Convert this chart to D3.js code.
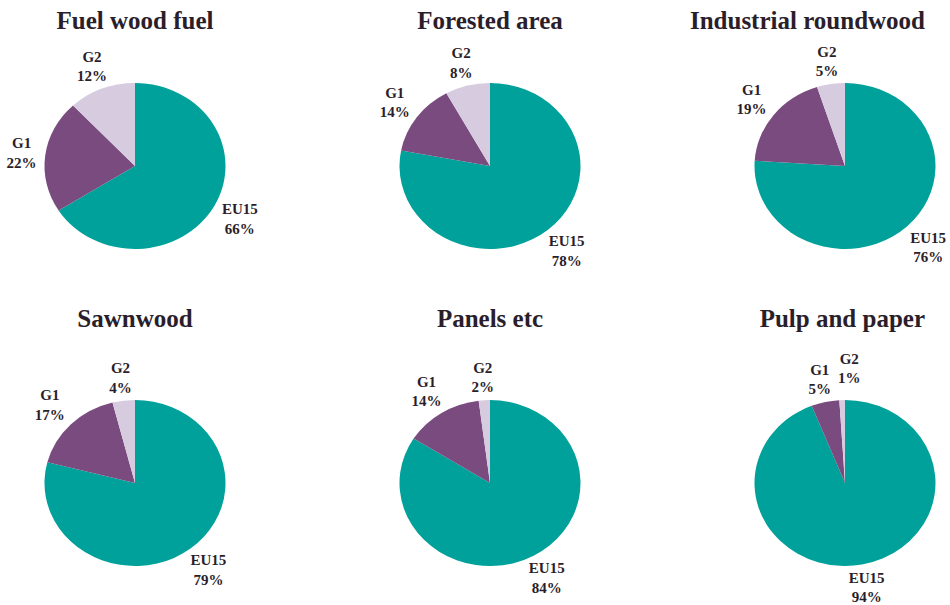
<!DOCTYPE html>
<html><head><meta charset="utf-8">
<script src="https://cdn.jsdelivr.net/npm/d3@7"></script>
<style>body{margin:0;background:#fff} svg{display:block}</style>
</head><body><svg id="c" width="950" height="605"></svg>
<script>
// ---- data ----
const titles = ["Fuel wood fuel", "Forested area", "Industrial roundwood", "Sawnwood", "Panels etc", "Pulp and paper"];
const groups = ["EU15", "G1", "G2"];
const eu15 = [66, 78, 76, 79, 84, 94];
const g1   = [22, 14, 19, 17, 14, 5];
const g2   = [12, 8, 5, 4, 2, 1];

// ---- style / layout ----
const colors = ["#00a19a", "#7a4b7f", "#d7cbe0"];
const textColor = "#2b1e2b";
const font = "'Liberation Serif','Times New Roman',serif";
const R = 83, sx = 90.5 / 83;
const colX = d3.scalePoint().domain([0, 1, 2]).range([135, 845]);
const rowY = d3.scalePoint().domain([0, 1]).range([166, 483]);
const titleY = d3.scalePoint().domain([0, 1]).range([29, 327]);
const titleRight = 925;

const svg = d3.select("#c");
const pie = d3.pie().sort(null).value(d => d.v);
const arc = d3.arc().innerRadius(0).outerRadius(R);
const color = d3.scaleOrdinal().domain(groups).range(colors);

titles.forEach((t, i) => {
  const col = i % 3, row = Math.floor(i / 3);
  const cx = colX(col), cy = rowY(row);
  const data = [eu15[i], g1[i], g2[i]].map((v, k) => ({ g: groups[k], v }));
  const arcs = pie(data);

  // title
  const tt = svg.append("text")
    .attr("y", titleY(row))
    .attr("text-anchor", "middle")
    .attr("font-family", font).attr("font-weight", "bold")
    .attr("font-size", 25).attr("fill", textColor)
    .text(t);
  const tw = tt.node().getComputedTextLength();
  let tx = cx;
  if (tx + tw / 2 > titleRight) tx = titleRight - tw / 2;
  tt.attr("x", tx);

  // pie (slightly elliptical, as in the reference)
  const g = svg.append("g").attr("transform", `translate(${cx},${cy}) scale(${sx},1)`);
  g.selectAll("path").data(arcs).join("path")
    .attr("d", arc)
    .attr("fill", d => color(d.data.g));

  // labels
  const gap = 8, lineH = 19.5, cap = 10.3, h = cap + lineH, pad = 7;
  const boxes = [];
  arcs.forEach(a => {
    const th = (a.startAngle + a.endAngle) / 2;
    const dx = Math.sin(th), dy = -Math.cos(th);
    const lab = svg.append("text")
      .attr("text-anchor", "middle")
      .attr("font-family", font).attr("font-weight", "bold")
      .attr("font-size", 15).attr("fill", textColor);
    const t1 = lab.append("tspan").text(a.data.g);
    const t2 = lab.append("tspan").text(a.data.v + "%");
    const w = Math.max(t1.node().getComputedTextLength(), t2.node().getComputedTextLength());
    const hw = w / 2 / sx, hh = h / 2;
    const ext = Math.min(Math.abs(dx) > 1e-6 ? hw / Math.abs(dx) : 1e9,
                         Math.abs(dy) > 1e-6 ? hh / Math.abs(dy) : 1e9);
    const dist = R + gap + ext;
    let lx = cx + sx * dx * dist, ly = cy + dy * dist;
    // resolve overlap with previously placed labels
    boxes.forEach(b => {
      const overlapX = (lx - w / 2) < (b.x + b.w / 2 + pad) && (lx + w / 2) > (b.x - b.w / 2 - pad);
      const overlapY = Math.abs(ly - b.y) < h;
      if (overlapX && overlapY) {
        lx = b.x + b.w / 2 + pad + w / 2;
        ly -= 9;
      }
    });
    boxes.push({ x: lx, y: ly, w });
    const top = ly - hh;
    t1.attr("x", lx).attr("y", top + cap);
    t2.attr("x", lx).attr("y", top + cap + lineH);
  });
});
</script></body></html>
